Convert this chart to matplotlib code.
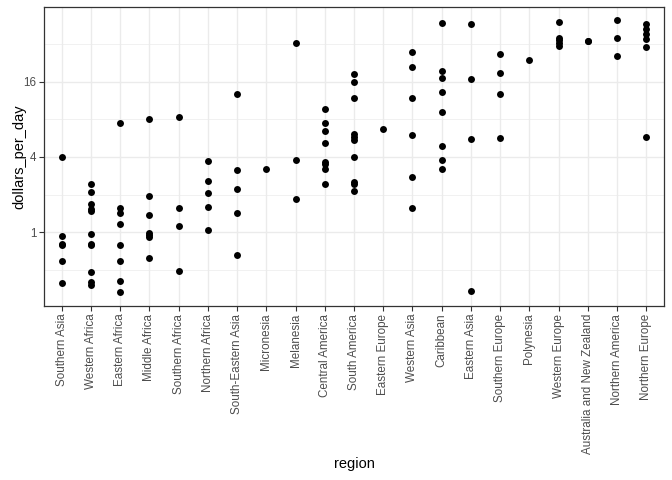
import numpy as np
import matplotlib
matplotlib.use("Agg")
import matplotlib.pyplot as plt
from matplotlib.ticker import FixedLocator, FixedFormatter

plt.rcParams['font.family'] = ['Liberation Sans', 'DejaVu Sans']

# dollars per day by region
regions = ["Southern Asia", "Western Africa", "Eastern Africa", "Middle Africa",
           "Southern Africa", "Northern Africa", "South-Eastern Asia", "Micronesia",
           "Melanesia", "Central America", "South America", "Eastern Europe",
           "Western Asia", "Caribbean", "Eastern Asia", "Southern Europe",
           "Polynesia", "Western Europe", "Australia and New Zealand",
           "Northern America", "Northern Europe"]

southern_asia = [4.0, 0.93, 0.80, 0.79, 0.59, 0.39]
western_africa = [2.41, 2.11, 1.67, 1.53, 1.48, 0.96, 0.81, 0.79, 0.48, 0.40, 0.38]
eastern_africa = [7.45, 1.56, 1.42, 1.17, 0.79, 0.59, 0.41, 0.33]
middle_africa = [8.06, 1.94, 1.36, 0.98, 0.95, 0.91, 0.62]
southern_africa = [8.41, 1.57, 1.12, 0.49]
northern_africa = [3.70, 2.55, 2.06, 1.59, 1.04]
south_eastern_asia = [12.75, 3.12, 2.23, 1.43, 0.66]
micronesia = [3.18]
melanesia = [32.3, 3.79, 1.83]
central_america = [9.62, 7.45, 6.42, 5.19, 3.64, 3.51, 3.18, 2.44]
south_america = [18.3, 16.0, 11.9, 6.1, 5.8, 5.5, 3.96, 2.52, 2.44, 2.15]
eastern_europe = [6.63]
western_asia = [27.7, 20.8, 11.9, 5.94, 2.74, 1.57]
caribbean = [46.7, 19.3, 17.0, 13.1, 9.22, 4.85, 3.78, 3.22]
eastern_asia = [46.4, 16.8, 5.58, 0.34]
southern_europe = [26.4, 18.6, 12.7, 5.69]
polynesia = [24.0]
western_europe = [48.2, 35.7, 34.1, 32.4, 30.6]
australia_nz = [34.0, 34.0]
northern_america = [49.3, 35.5, 25.6]
northern_europe = [45.8, 41.9, 38.1, 34.8, 30.4, 5.79]

values = [southern_asia, western_africa, eastern_africa, middle_africa,
          southern_africa, northern_africa, south_eastern_asia, micronesia,
          melanesia, central_america, south_america, eastern_europe,
          western_asia, caribbean, eastern_asia, southern_europe, polynesia,
          western_europe, australia_nz, northern_america, northern_europe]

fig = plt.figure(figsize=(6.72, 4.8), dpi=100)
ax = fig.add_axes([44/672, 1-306/480, 620/672, 299/480])

for i, vals in enumerate(values):
    ax.scatter([i]*len(vals), vals, s=25, color="black", linewidths=0, zorder=3)

ax.set_yscale("log", base=2)
ylo, yhi = 2**-1.96, 2**5.98
ax.set_ylim(ylo, yhi)
ax.set_xlim(-0.6, len(regions) - 0.4)

ax.yaxis.set_major_locator(FixedLocator([1, 4, 16]))
ax.yaxis.set_major_formatter(FixedFormatter(["1", "4", "16"]))
ax.yaxis.set_minor_locator(FixedLocator([0.5, 2, 8, 32]))
ax.yaxis.set_minor_formatter(FixedFormatter([]))
ax.set_xticks(range(len(regions)))
ax.set_xticklabels(regions, rotation=90)

ax.grid(True, which="major", color="#EBEBEB", linewidth=1.0, zorder=0)
ax.grid(True, which="minor", axis="y", color="#EBEBEB", linewidth=0.5, zorder=0)
ax.set_axisbelow(True)

for sp in ax.spines.values():
    sp.set_color("#333333")
    sp.set_linewidth(0.9)

ax.tick_params(axis="both", which="major", length=3.5, width=0.8, color="#333333",
               labelcolor="#4D4D4D", labelsize=8.4, pad=2)
ax.tick_params(axis="y", which="minor", length=0)

ax.set_xlabel("region", fontsize=10.5, labelpad=2.5)
ax.set_ylabel("dollars_per_day", fontsize=10.5, labelpad=-2)

fig.savefig("out.png", dpi=100)
